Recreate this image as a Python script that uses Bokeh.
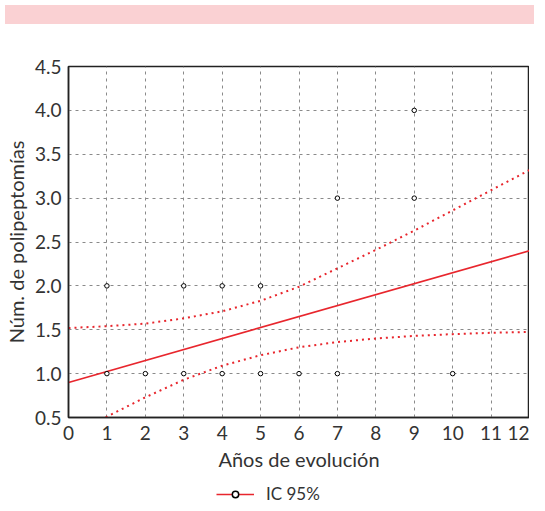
from bokeh.plotting import figure
from bokeh.models import (Range1d, FixedTicker, NumeralTickFormatter, Legend, LegendItem, Div)
from bokeh.layouts import column
from bokeh.embed import file_html
from bokeh.resources import INLINE

# Data
years = [1, 1, 2, 3, 3, 4, 4, 5, 5, 6, 7, 7, 9, 9, 10]
polyps = [1, 2, 1, 1, 2, 1, 2, 1, 2, 1, 1, 3, 3, 4, 1]

fit_x = [0, 12]
fit_y = [0.9, 2.4]

ci_x = [0, 1, 2, 3, 4, 5, 6, 7, 8, 9, 10, 11, 12]
ci_upper = [1.52, 1.54, 1.57, 1.63, 1.71, 1.83, 1.99, 2.20, 2.41, 2.63, 2.86, 3.09, 3.32]
ci_lower = [0.28, 0.51, 0.73, 0.93, 1.09, 1.21, 1.30, 1.36, 1.40, 1.43, 1.45, 1.465, 1.475]

x_ticks = list(range(0, 13))
y_ticks = [0.5, 1.0, 1.5, 2.0, 2.5, 3.0, 3.5, 4.0, 4.5]

legend_label = "IC 95%"

FONT = "Lato"
TXT = "#333333"
RED = "#e8262d"
W = 529

band = Div(text="", width=W, height=19,
           styles={"background-color": "#fad1d3"})

p = figure(width=W, height=450, output_backend="svg", toolbar_location=None,
           x_range=Range1d(0, 12), y_range=Range1d(0.5, 4.5),
           min_border_left=62, min_border_top=37, min_border_right=0, min_border_bottom=62)

p.background_fill_color = "white"
p.border_fill_color = "white"
p.outline_line_color = "#222222"
p.outline_line_width = 1.5

for ax in (p.xaxis[0], p.yaxis[0]):
    ax.axis_line_color = "#222222"
    ax.axis_line_width = 1.5
    ax.major_tick_in = 0
    ax.major_tick_out = 0
    ax.minor_tick_in = 0
    ax.minor_tick_out = 0
    ax.major_label_text_font = FONT
    ax.major_label_text_font_size = "19px"
    ax.major_label_text_color = TXT
    ax.axis_label_text_font = FONT
    ax.axis_label_text_font_size = "20px"
    ax.axis_label_text_font_style = "normal"
    ax.axis_label_text_color = TXT

p.xaxis.ticker = FixedTicker(ticks=x_ticks)
p.yaxis.ticker = FixedTicker(ticks=y_ticks)
p.yaxis.formatter = NumeralTickFormatter(format="0.0")
p.xaxis.axis_label = "Años de evolución"
p.yaxis.axis_label = "Núm. de polipeptomías"
p.xaxis.major_label_standoff = 8
p.yaxis.major_label_standoff = 7
p.xaxis.axis_label_standoff = 4
p.yaxis.axis_label_standoff = 4

for g in (p.xgrid[0], p.ygrid[0]):
    g.grid_line_color = "#8a8a8a"
    g.grid_line_dash = "3 4"
    g.grid_line_width = 1

p.line(ci_x, ci_upper, line_color=RED, line_width=2, line_dash="2 4")
p.line(ci_x, ci_lower, line_color=RED, line_width=2, line_dash="2 4")
p.line(fit_x, fit_y, line_color=RED, line_width=1.6)
p.scatter(years, polyps, marker="circle", size=4.5, fill_color="white",
          line_color="black", line_width=1)

# legend strip: same series drawn out of view, only the legend is visible
lg = figure(width=W, height=26, output_backend="svg", toolbar_location=None,
            x_range=Range1d(0, 12), y_range=Range1d(100, 101),
            x_axis_type=None, y_axis_type=None,
            min_border_left=0, min_border_right=0, min_border_top=0, min_border_bottom=0)
lg.grid.visible = False
lg.outline_line_color = None
lg.background_fill_color = "white"
lg.border_fill_color = "white"
lf = lg.line(fit_x, fit_y, line_color=RED, line_width=1.6)
lp = lg.scatter(years, polyps, marker="circle", size=10, fill_color="white",
                line_color="black", line_width=1.5)
legend = Legend(items=[LegendItem(label=legend_label, renderers=[lf, lp])],
                location=(148, 1), orientation="horizontal",
                label_text_font=FONT, label_text_font_size="17px", label_text_color=TXT,
                border_line_color=None, background_fill_alpha=0,
                glyph_width=38, glyph_height=16, label_height=16,
                margin=0, padding=0, label_standoff=12)
lg.add_layout(legend)

layout = column(band, p, lg, spacing=0)
open("out.html", "w").write(file_html(layout, INLINE))
